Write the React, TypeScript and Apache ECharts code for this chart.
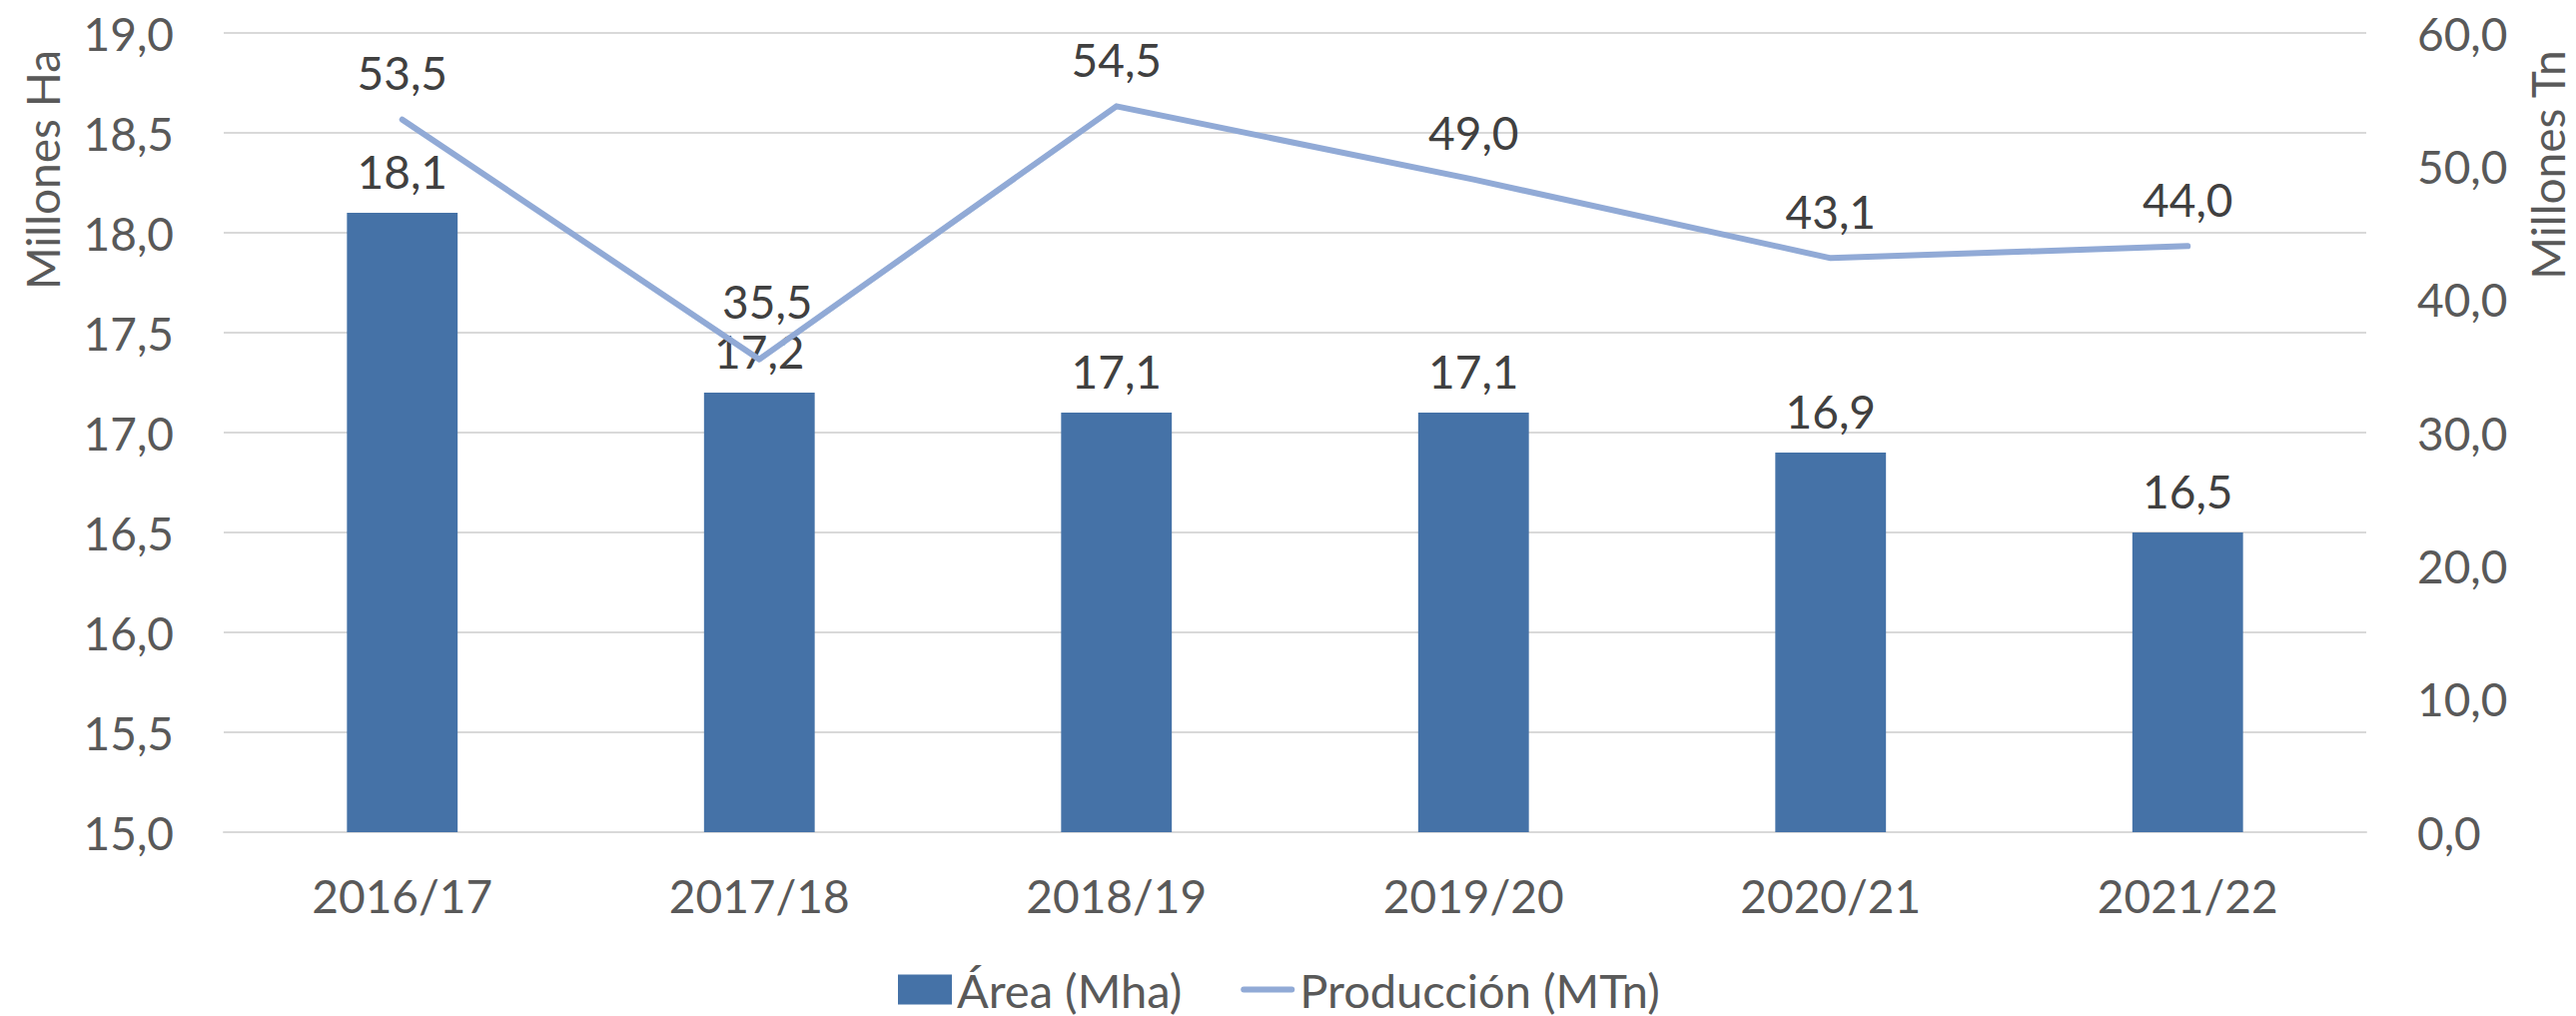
import React, { useEffect, useRef } from "react";
import * as echarts from "echarts";

const categories = ["2016/17", "2017/18", "2018/19", "2019/20", "2020/21", "2021/22"];
const areaValues = [18.1, 17.2, 17.1, 17.1, 16.9, 16.5];
const productionValues = [53.5, 35.5, 54.5, 49.0, 43.1, 44.0];
const areaName = "Área (Mha)";
const productionName = "Producción (MTn)";
const leftAxisTitle = "Millones Ha";
const rightAxisTitle = "Millones Tn";

const FONT = "Lato";
const FS = 46;
const LINE_COLOR = "#91AAD6";
const fmt = (v: number) => v.toFixed(1).replace(".", ",");

export default function App() {
  const ref = useRef<HTMLDivElement>(null);
  useEffect(() => {
    document.body.style.margin = "0";
    const chart = echarts.init(ref.current!, null, { renderer: "svg" });
    chart.setOption({
      animation: false,
      backgroundColor: "#ffffff",
      textStyle: { fontFamily: FONT },
      grid: { left: 224, right: 210, top: 33, bottom: 184, containLabel: false },
      legend: {
        left: 899,
        top: 967,
        padding: 0,
        itemGap: 59,
        itemWidth: 54,
        itemHeight: 30,
        symbolKeepAspect: true,
        textStyle: { fontFamily: FONT, fontSize: 47, color: "#595959" },
        data: [
          { name: areaName, icon: "rect" },
          {
            name: productionName,
            icon: "path://M3,0 L51,0 A3,3 0 0 1 51,6 L3,6 A3,3 0 0 1 3,0 Z",
            itemStyle: { color: LINE_COLOR },
          },
        ],
      },
      xAxis: {
        type: "category",
        data: categories,
        axisLine: { show: true, lineStyle: { color: "#D9D9D9", width: 2 } },
        axisTick: { show: false },
        axisLabel: { fontFamily: FONT, fontSize: FS, color: "#595959", margin: 40 },
      },
      yAxis: [
        {
          type: "value",
          min: 15,
          max: 19,
          interval: 0.5,
          axisLine: { show: false },
          axisTick: { show: false },
          splitLine: { show: true, lineStyle: { color: "#D9D9D9", width: 2 } },
          axisLabel: {
            fontFamily: FONT,
            fontSize: FS,
            color: "#595959",
            margin: 50,
            formatter: (v: number) => fmt(v),
          },
        },
        {
          type: "value",
          min: 0,
          max: 60,
          interval: 10,
          position: "right",
          axisLine: { show: false },
          axisTick: { show: false },
          splitLine: { show: false },
          axisLabel: {
            fontFamily: FONT,
            fontSize: FS,
            color: "#595959",
            margin: 51,
            formatter: (v: number) => fmt(v),
          },
        },
      ],
      series: [
        {
          name: areaName,
          type: "bar",
          yAxisIndex: 0,
          data: areaValues,
          barWidth: "31%",
          itemStyle: { color: "#4572A7" },
          label: {
            show: true,
            position: "top",
            distance: 19,
            fontFamily: FONT,
            fontSize: FS,
            color: "#404040",
            formatter: (p: any) => fmt(p.value),
          },
        },
        {
          name: productionName,
          type: "line",
          yAxisIndex: 1,
          symbol: "none",
          data: productionValues,
          lineStyle: { color: LINE_COLOR, width: 6, cap: "round", join: "round" },
          itemStyle: { color: LINE_COLOR },
          z: 3,
        },
        {
          name: "productionLabels",
          type: "scatter",
          yAxisIndex: 1,
          symbolSize: 0,
          itemStyle: { color: LINE_COLOR },
          data: productionValues.map((v, i) =>
            i === 1 ? { value: v, label: { offset: [8, -11] } } : v
          ),
          label: {
            show: true,
            position: "top",
            distance: 24,
            opacity: 1,
            fontFamily: FONT,
            fontSize: FS,
            color: "#404040",
            formatter: (p: any) => fmt(p.value),
          },
          z: 4,
        },
      ],
      graphic: [
        {
          type: "text",
          x: 42,
          y: 170,
          rotation: Math.PI / 2,
          style: {
            text: leftAxisTitle,
            fontFamily: FONT,
            fontSize: FS,
            fill: "#595959",
            align: "center",
            verticalAlign: "middle",
          },
        },
        {
          type: "text",
          x: 2550,
          y: 165,
          rotation: Math.PI / 2,
          style: {
            text: rightAxisTitle,
            fontFamily: FONT,
            fontSize: FS,
            fill: "#595959",
            align: "center",
            verticalAlign: "middle",
          },
        },
      ],
    });
    return () => chart.dispose();
  }, []);
  return (
    <div
      ref={ref}
      style={{ position: "absolute", left: 0, top: 0, width: 2579, height: 1017 }}
    />
  );
}
